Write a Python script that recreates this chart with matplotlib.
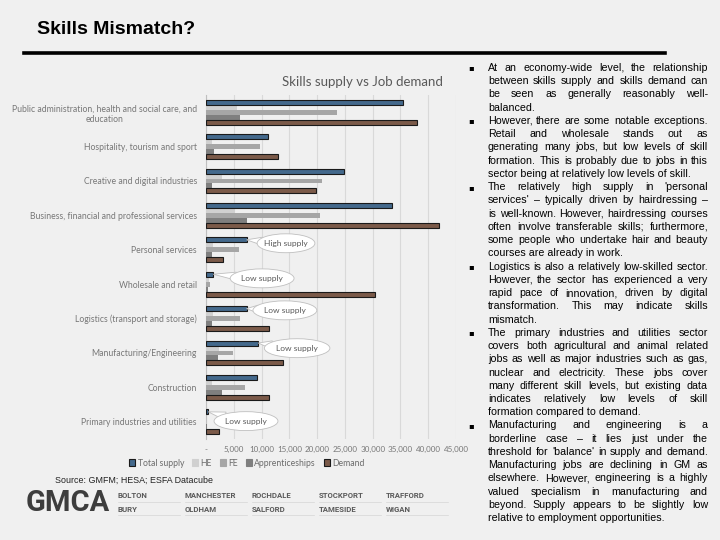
import matplotlib
matplotlib.use("Agg")
import numpy as np
import matplotlib.pyplot as plt
from matplotlib.lines import Line2D
from matplotlib.patches import Patch, Ellipse, Polygon


# chart data (top to bottom)
categories = [
    "Public administration, health and social care, and\neducation",
    "Hospitality, tourism and sport",
    "Creative and digital industries",
    "Business, financial and professional services",
    "Personal services",
    "Wholesale and retail",
    "Logistics (transport and storage)",
    "Manufacturing/Engineering",
    "Construction",
    "Primary industries and utilities",
]
total_supply = [35500, 11200, 24900, 33400, 7300, 1300, 7300, 9400, 9100, 400]
he = [5500, 1000, 2900, 5200, 1200, 500, 1200, 2300, 1000, 0]
fe = [23500, 9700, 20800, 20600, 6000, 700, 6200, 4800, 7100, 0]
apprenticeships = [6200, 1400, 1100, 7300, 1100, 300, 1000, 2100, 2900, 100]
demand = [38000, 12900, 19800, 41900, 3100, 30500, 11300, 13800, 11300, 2300]

series_names = ["Total supply", "HE", "FE", "Apprenticeships", "Demand"]
series_colors = ["#44698c", "#d0d0d0", "#a6a6a6", "#7f7f7f", "#7b5a49"]
series_edges = ["#1a1a1a", "none", "none", "none", "#1a1a1a"]

x_ticks = [0, 5000, 10000, 15000, 20000, 25000, 30000, 35000, 40000, 45000]
x_ticklabels = ["-", "5,000", "10,000", "15,000", "20,000", "25,000",
                "30,000", "35,000", "40,000", "45,000"]

# callouts: (text, category index, label x value, label y shift, bubble width)
callouts = [
    ("High supply", 4, 14400, -0.19, 10400),
    ("Low supply", 5, 10100, -0.17, 11500),
    ("Low supply", 6, 14200, -0.24, 11500),
    ("Low supply", 7, 16400, -0.14, 11800),
    ("Low supply", 9, 7200, -0.02, 11500),
]

bullets = [
    ["At an economy-wide level, the relationship",
     "between skills supply and skills demand can",
     "be seen as generally reasonably well-",
     "balanced."],
    ["However, there are some notable exceptions.",
     "Retail and wholesale stands out as",
     "generating many jobs, but low levels of skill",
     "formation. This is probably due to jobs in this",
     "sector being at relatively low levels of skill."],
    ["The relatively high supply in 'personal",
     "services' \u2013 typically driven by hairdressing \u2013",
     "is well-known. However, hairdressing courses",
     "often involve transferable skills; furthermore,",
     "some people who undertake hair and beauty",
     "courses are already in work."],
    ["Logistics is also a relatively low-skilled sector.",
     "However, the sector has experienced a very",
     "rapid pace of innovation, driven by digital",
     "transformation. This may indicate skills",
     "mismatch."],
    ["The primary industries and utilities sector",
     "covers both agricultural and animal related",
     "jobs as well as major industries such as gas,",
     "nuclear and electricity. These jobs cover",
     "many different skill levels, but existing data",
     "indicates relatively low levels of skill",
     "formation compared to demand."],
    ["Manufacturing and engineering is a",
     "borderline case \u2013 it lies just under the",
     "threshold for 'balance' in supply and demand.",
     "Manufacturing jobs are declining in GM as",
     "elsewhere. However, engineering is a highly",
     "valued specialism in manufacturing and",
     "beyond. Supply appears to be slightly low",
     "relative to employment opportunities."],
]

towns_top = ["BOLTON", "MANCHESTER", "ROCHDALE", "STOCKPORT", "TRAFFORD"]
towns_bottom = ["BURY", "OLDHAM", "SALFORD", "TAMESIDE", "WIGAN"]

W, H = 720, 540
BG = "#f0f0f0"


def fx(x):
    return x / W


def fy(y):
    return 1 - y / H


fig = plt.figure(figsize=(7.2, 5.4), dpi=100, facecolor=BG)

# slide title + rule
fig.text(fx(37), fy(30), "Skills Mismatch?", fontsize=14, fontweight="bold",
         family="Liberation Sans", va="center", ha="left", color="black")
fig.add_artist(Line2D([fx(24), fx(665)], [fy(53), fy(53)], lw=2.6, color="black"))

# ---- bar chart ----
ax_w, ax_h = 250, 344
ax = fig.add_axes([fx(206), fy(439), ax_w / W, ax_h / H])
ax.set_facecolor("none")
y = np.arange(len(categories))
step = 0.145
values = [total_supply, he, fe, apprenticeships, demand]
zorders = [7, 4, 5, 6, 8]
for i, (vals, c, ec) in enumerate(zip(values, series_colors, series_edges)):
    ax.barh(y + (i - 2) * step, vals, height=step, color=c, edgecolor=ec,
            linewidth=0.8, zorder=zorders[i])

xmax = 45000
ax.set_xlim(0, xmax)
ax.set_ylim(len(categories) - 0.5, -0.5)
ax.set_xticks(x_ticks)
ax.set_xticklabels(x_ticklabels)
ax.set_yticks(y)
ax.set_yticklabels(categories)
ax.tick_params(axis="both", length=0, labelcolor="#777777")
ax.tick_params(axis="y", pad=6.5, labelsize=6.2)
ax.tick_params(axis="x", pad=5, labelsize=5.8)
for lab in ax.get_yticklabels():
    lab.set_family("Lato")
    lab.set_multialignment("center")
for lab in ax.get_xticklabels():
    lab.set_family("Lato")
ax.grid(axis="x", color="#d9d9d9", lw=0.8)
ax.set_axisbelow(True)
for s in ["top", "right", "bottom"]:
    ax.spines[s].set_visible(False)
ax.spines["left"].set_color("#bfbfbf")

# speech bubbles: ellipse + tail pointing at the end of the total-supply bar
px_x = ax_w / xmax            # pixels per data unit (x)
px_y = ax_h / len(categories)  # pixels per category
bub_h = 0.55
for text, idx, lx, dy, bw in callouts:
    cx, cy = lx, idx + dy
    tx, ty = total_supply[idx], idx - 2 * step
    dxp, dyp = (tx - cx) * px_x, (ty - cy) * px_y
    a, b = bw * px_x / 2, bub_h * px_y / 2
    t = 0.85 / np.sqrt((dxp / a) ** 2 + (dyp / b) ** 2)
    bx, by = dxp * t, dyp * t
    nrm = np.hypot(dxp, dyp)
    ox, oy = -dyp / nrm * 4, dxp / nrm * 4
    pts = [(tx, ty),
           (cx + (bx + ox) / px_x, cy + (by + oy) / px_y),
           (cx + (bx - ox) / px_x, cy + (by - oy) / px_y)]
    ax.add_patch(Polygon(pts, closed=True, fc="white", ec="#bfbfbf", lw=0.6, zorder=10))
    ax.add_patch(Ellipse((cx, cy), bw, bub_h, fc="white", ec="#bfbfbf", lw=0.6, zorder=11))
    ax.text(cx, cy, text, ha="center", va="center", fontsize=6, color="#595959",
            family="Lato", zorder=12)

fig.text(fx(362), fy(82), "Skills supply vs Job demand", fontsize=9.5,
         color="#595959", family="Lato", ha="center", va="center")

handles = [Patch(facecolor=c, edgecolor=(e if e != "none" else c), lw=0.8)
           for c, e in zip(series_colors, series_edges)]
fig.legend(handles, series_names, loc="center", bbox_to_anchor=(fx(247), fy(463)),
           ncol=5, frameon=False, handlelength=0.7, handleheight=0.7,
           columnspacing=0.9, handletextpad=0.3, labelcolor="#6b6b6b",
           prop={"family": "Lato", "size": 6.2})

# ---- bullet text (justified) ----
renderer = fig.canvas.get_renderer()
txt_kw = dict(fontsize=7.7, family="Liberation Sans", color="black", va="center", ha="left")


def justify_line(line, x0, yy, width, last):
    words = line.split(" ")
    if last or len(words) == 1:
        fig.text(fx(x0), fy(yy), line, **txt_kw)
        return
    texts = [fig.text(0, 0, w, **txt_kw) for w in words]
    widths = [t.get_window_extent(renderer).width for t in texts]
    gap = (width - sum(widths)) / (len(words) - 1)
    xx = x0
    for t, wd in zip(texts, widths):
        t.set_position((fx(xx), fy(yy)))
        xx += wd + gap


line_y = 68
line_h = 13.24
for para in bullets:
    fig.text(fx(468), fy(line_y), "\u25aa", fontsize=6, family="DejaVu Sans",
             va="center", ha="left", color="black")
    for k, line in enumerate(para):
        justify_line(line, 488, line_y, 220, k == len(para) - 1)
        line_y += line_h

# ---- footer ----
fig.text(fx(55), fy(480), "Source: GMFM; HESA; ESFA Datacube", fontsize=6.4,
         family="Liberation Sans", color="#222222", va="center", ha="left")
fig.text(fx(26), fy(503), "GMCA", fontsize=21, fontweight="bold", family="Roboto",
         color="#3d3d3d", va="center", ha="left")
town_x = [118, 185, 252, 319, 386]
for tx, t1, t2 in zip(town_x, towns_top, towns_bottom):
    fig.text(fx(tx), fy(496), t1, fontsize=5.6, fontweight="bold", family="Roboto",
             color="#5a5a5a", va="center", ha="left")
    fig.text(fx(tx), fy(509), t2, fontsize=5.6, fontweight="bold", family="Roboto",
             color="#5a5a5a", va="center", ha="left")
    for ly in (502, 515):
        fig.add_artist(Line2D([fx(tx), fx(tx + 62)], [fy(ly), fy(ly)], lw=0.5,
                              color="#d6d6d6"))

fig.savefig("out.png", dpi=100, facecolor=BG)
